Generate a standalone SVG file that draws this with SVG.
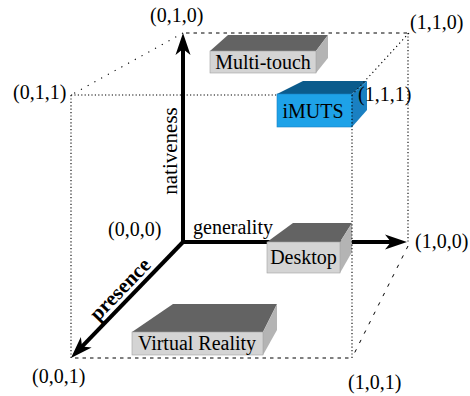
<svg xmlns="http://www.w3.org/2000/svg" width="470" height="396" viewBox="0 0 470 396">
<style>
text{font-family:"Liberation Serif","Times New Roman",serif;font-size:20px;fill:#000}
.mid{text-anchor:middle}
.big{font-size:21px}
.axis{fill:none;stroke:#000;stroke-width:4;stroke-linejoin:miter}
.dot{fill:none;stroke:#000;stroke-width:1.1;stroke-dasharray:1.2 2.2}
.sdot{fill:none;stroke:#000;stroke-width:1.1;stroke-dasharray:1.2 6.5}
.mdot{fill:none;stroke:#000;stroke-width:1.1;stroke-dasharray:1.2 3.2}
.dash{fill:none;stroke:#000;stroke-width:1;stroke-dasharray:3.5 4}
.sdash{fill:none;stroke:#000;stroke-width:1;stroke-dasharray:3.5 7}
.top{fill:#636363}
.side{fill:#b4b4b4}
.front{fill:#d4d4d4;stroke:#a0a0a0;stroke-width:0.6}
.btop{fill:#0b5b8c}
.bside{fill:#1a80c2}
.bfront{fill:#1ea2e8;stroke:#1a80c2;stroke-width:0.6}
</style>
<defs>
<marker id="stealth" viewBox="-12 -8 26 16" refX="0" refY="0" markerWidth="26" markerHeight="16" markerUnits="userSpaceOnUse" orient="auto-start-reverse">
<path d="M12,0 L-10,-7.5 L-4,0 L-10,7.5 Z" fill="#000"/>
</marker>
</defs>
<g id="connectors">
<line class="dash" x1="186" y1="33" x2="409" y2="33"/>
<line class="sdot" x1="183" y1="33" x2="71" y2="95"/>
<line class="dot" x1="71" y1="95" x2="277" y2="95"/>
<line class="dot" x1="71" y1="95" x2="71" y2="358"/>
<line class="dash" x1="75" y1="358" x2="352" y2="358"/>
<line class="dot" x1="408" y1="33" x2="408" y2="242"/>
<line class="sdash" x1="408" y1="246" x2="352" y2="358"/>
<path class="axis" d="M183,45 L183,242 L395,242" marker-start="url(#stealth)" marker-end="url(#stealth)"/>
<line class="axis" x1="183" y1="242" x2="79.3" y2="349.4" marker-end="url(#stealth)"/>
</g>
<g id="node-multitouch">
<polygon class="top" points="210,51 228,35 328,35 316,51"/>
<polygon class="side" points="316,51 328,35 328,58 316,73"/>
<rect class="front" x="210" y="51" width="106" height="22"/>
<text class="mid" x="263" y="69">Multi-touch</text>
</g>
<g id="node-imuts">
<polygon class="btop" points="277,94 303,81 367,81 352,94"/>
<polygon class="bside" points="352,94 367,81 367,110 352,127"/>
<rect class="bfront" x="277" y="94" width="75" height="33"/>
<text class="mid" x="313" y="118">iMUTS</text>
</g>
<g id="node-desktop">
<polygon class="top" points="267,242 293,223 352,223 340,242"/>
<polygon class="side" points="340,242 352,223 352,252 340,273"/>
<rect class="front" x="267" y="242" width="73" height="31"/>
<text class="mid" x="303.5" y="264">Desktop</text>
</g>
<g id="node-vr">
<polygon class="top" points="132,332 173,304 277,304 263,332"/>
<polygon class="side" points="263,332 277,304 277,330 263,355"/>
<rect class="front" x="132" y="332" width="131" height="23"/>
<text class="mid" x="197" y="350">Virtual Reality</text>
</g>
<g id="cube-edges-front">
<line class="mdot" x1="409" y1="33" x2="352" y2="95"/>
<line class="dot" x1="352" y1="95" x2="352" y2="358"/>
</g>
<g id="labels">
<text x="150" y="22">(0,1,0)</text>
<text x="410" y="29">(1,1,0)</text>
<text x="13" y="99">(0,1,1)</text>
<text x="358" y="101">(1,1,1)</text>
<text x="108" y="236">(0,0,0)</text>
<text x="415" y="248">(1,0,0)</text>
<text x="32" y="383">(0,0,1)</text>
<text x="348" y="389">(1,0,1)</text>
<text class="mid big" transform="translate(177,151) rotate(-90)">nativeness</text>
<text x="193" y="234">generality</text>
<text class="mid big" font-weight="bold" transform="translate(125,294) rotate(-46)">presence</text>
</g>
</svg>
